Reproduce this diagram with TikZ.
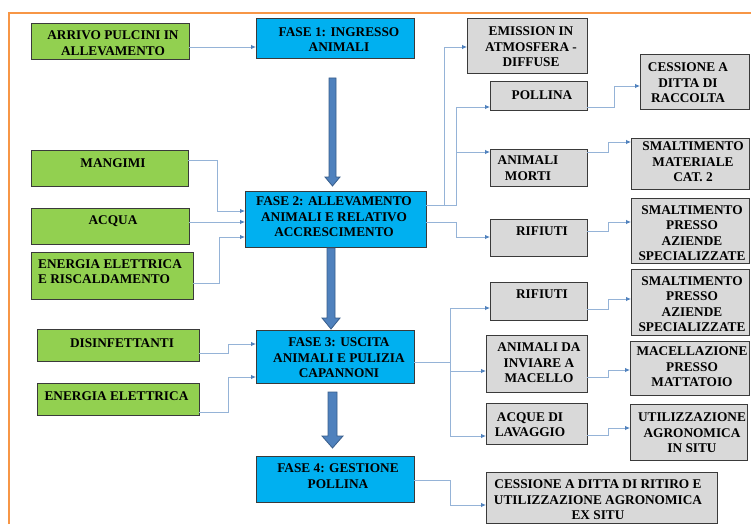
\documentclass[tikz,border=0pt]{standalone}
\usepackage{fontspec}
\setmainfont{Liberation Serif}
\usetikzlibrary{arrows.meta}
\definecolor{gfill}{HTML}{92D050}
\definecolor{bfill}{HTML}{00B0F0}
\definecolor{kfill}{HTML}{D9D9D9}
\definecolor{bordc}{HTML}{3A3A3A}
\definecolor{lineb}{HTML}{95B3D7}
\definecolor{tipb}{HTML}{4F81BD}
\definecolor{arrb}{HTML}{4F81BD}
\definecolor{arrd}{HTML}{385D8A}
\definecolor{framec}{HTML}{F79646}
\newcommand\bbox[6]{\node[box,#6,minimum width=#4pt-#2pt,minimum height=#5pt-#3pt] (#1) at ({(#2+#4)/2},{(#3+#5)/2}) {};}
\begin{document}
\begin{tikzpicture}[x=1pt,y=-1pt,
  box/.style={draw=bordc,line width=1pt,inner sep=0pt,outer sep=0pt},
  txt/.style={font=\bfseries\fontsize{13.3}{15.5}\selectfont,align=center,inner sep=0pt,text=black},
  conn/.style={draw=lineb,line width=0.9pt,-{Latex[length=5pt,width=4.5pt,color=tipb]}},
  bigarrow/.style={fill=arrb,draw=arrd,line width=0.8pt}]
\useasboundingbox (0,0) rectangle (751,524);
% frame
\draw[framec,line width=2pt] (9,524) -- (9,13) -- (751,13);
% boxes
\bbox{arrivo}{31}{24}{189}{60}{fill=gfill}
\bbox{fase1}{256}{19}{414}{59}{fill=bfill}
\bbox{emission}{467}{19}{587}{74}{fill=kfill}
\bbox{pollina}{490}{82}{587}{110}{fill=kfill}
\bbox{cessione}{640}{55}{749}{109}{fill=kfill}
\bbox{mangimi}{31}{150}{188}{186}{fill=gfill}
\bbox{acqua}{31}{208}{189}{244}{fill=gfill}
\bbox{energia}{31}{252}{193}{299}{fill=gfill}
\bbox{fase2}{245}{191}{426}{247}{fill=bfill}
\bbox{morti}{490}{149}{587}{186}{fill=kfill}
\bbox{cat2}{631}{138}{749}{189}{fill=kfill}
\bbox{rif1}{490}{219}{587}{256}{fill=kfill}
\bbox{smalt1}{631}{198}{749}{263}{fill=kfill}
\bbox{rif2}{490}{282}{587}{320}{fill=kfill}
\bbox{smalt2}{631}{269}{749}{335}{fill=kfill}
\bbox{disinf}{37}{329}{199}{361}{fill=gfill}
\bbox{enel}{37}{383}{199}{415}{fill=gfill}
\bbox{fase3}{256}{330}{414}{383}{fill=bfill}
\bbox{inviare}{486}{335}{587}{392}{fill=kfill}
\bbox{macell}{630}{341}{749}{395}{fill=kfill}
\bbox{acque}{486}{403}{587}{444}{fill=kfill}
\bbox{util}{630}{404}{747}{460}{fill=kfill}
\bbox{fase4}{256}{456}{414}{502}{fill=bfill}
\bbox{cess2}{486}{472}{717}{523}{fill=kfill}
% texts
\node[txt] (t-arrivo) at (113,43) {ARRIVO PULCINI IN\\ALLEVAMENTO};
\node[txt] (t-fase1) at (339,39.5) {FASE 1: INGRESSO\\ANIMALI};
\node[txt] (t-emission) at (531,47) {EMISSION IN\\ATMOSFERA -\\DIFFUSE};
\node[txt] (t-pollina) at (542,95) {POLLINA};
\node[txt] (t-cessione) at (688,83) {CESSIONE A\\DITTA DI\\RACCOLTA};
\node[txt] (t-mangimi) at (113,163) {MANGIMI};
\node[txt] (t-acqua) at (113,221) {ACQUA};
\node[txt,align=left,anchor=west] (t-energia) at (38,271.5) {ENERGIA ELETTRICA\\E RISCALDAMENTO};
\node[txt] (t-fase2) at (334,217) {FASE 2: ALLEVAMENTO\\ANIMALI E RELATIVO\\ACCRESCIMENTO};
\node[txt] (t-morti) at (528,168) {ANIMALI\\MORTI};
\node[txt] (t-cat2) at (693,162) {SMALTIMENTO\\MATERIALE\\CAT. 2};
\node[txt] (t-rif1) at (542,231) {RIFIUTI};
\node[txt] (t-smalt1) at (692,233) {SMALTIMENTO\\PRESSO\\AZIENDE\\SPECIALIZZATE};
\node[txt] (t-rif2) at (542,294) {RIFIUTI};
\node[txt] (t-smalt2) at (692,304) {SMALTIMENTO\\PRESSO\\AZIENDE\\SPECIALIZZATE};
\node[txt] (t-disinf) at (122,343) {DISINFETTANTI};
\node[txt] (t-enel) at (116.5,396) {ENERGIA ELETTRICA};
\node[txt] (t-fase3) at (339,358) {FASE 3: USCITA\\ANIMALI E PULIZIA\\CAPANNONI};
\node[txt] (t-fase4) at (338,476) {FASE 4: GESTIONE\\POLLINA};
\node[txt] (t-inviare) at (539,363) {ANIMALI DA\\INVIARE A\\MACELLO};
\node[txt] (t-macell) at (692,367) {MACELLAZIONE\\PRESSO\\MATTATOIO};
\node[txt] (t-acque) at (530,424.5) {ACQUE DI\\LAVAGGIO};
\node[txt] (t-util) at (692,433) {UTILIZZAZIONE\\AGRONOMICA\\IN SITU};
\node[txt] (t-cess2) at (598,500) {CESSIONE A DITTA DI RITIRO E\\UTILIZZAZIONE AGRONOMICA\\EX SITU};
% connectors
\draw[conn] (arrivo.east |- 0,47) -- (fase1.west |- 0,47);
\draw[conn] (mangimi.east |- 0,160) -| (217,211) -- (fase2.west |- 0,211);
\draw[conn] (acqua.east |- 0,222) -- (fase2.west |- 0,222);
\draw[conn] (energia.east |- 0,283) -| (219,237) -- (fase2.west |- 0,237);
\draw[conn] (fase2.east |- 0,205) -| (444,47) -- (emission.west |- 0,47);
\draw[conn] (fase2.east |- 0,205) -| (456,107) -- (pollina.west |- 0,107);
\draw[conn] (fase2.east |- 0,205) -| (456,152) -- (morti.west |- 0,152);
\draw[conn] (fase2.east |- 0,222) -| (456,237) -- (rif1.west |- 0,237);
\draw[conn] (pollina.east |- 0,107) -| (614,86) -- (cessione.west |- 0,86);
\draw[conn] (morti.east |- 0,152) -| (608,142) -- (cat2.west |- 0,142);
\draw[conn] (rif1.east |- 0,231) -| (608,222) -- (smalt1.west |- 0,222);
\draw[conn] (rif2.east |- 0,309) -| (608,299) -- (smalt2.west |- 0,299);
\draw[conn] (fase3.east |- 0,362) -| (450,308) -- (rif2.west |- 0,308);
\draw[conn] (fase3.east |- 0,362) -| (450,371) -- (inviare.west |- 0,371);
\draw[conn] (fase3.east |- 0,362) -| (450,436) -- (acque.west |- 0,436);
\draw[conn] (inviare.east |- 0,377) -| (608,370) -- (macell.west |- 0,370);
\draw[conn] (acque.east |- 0,435) -| (608,428) -- (util.west |- 0,428);
\draw[conn] (fase4.east |- 0,480) -| (450,505) -- (cess2.west |- 0,505);
\draw[conn] (disinf.east |- 0,353) -| (228,344) -- (fase3.west |- 0,344);
\draw[conn] (enel.east |- 0,412) -| (228,377) -- (fase3.west |- 0,377);
% big arrows
\draw[bigarrow] (329,78) -- (336,78) -- (336,177) -- (340,177) -- (332.5,186) -- (325,177) -- (329,177) -- cycle;
\draw[bigarrow] (327,248) -- (335,248) -- (335,318) -- (340,318) -- (331,329) -- (322,318) -- (327,318) -- cycle;
\draw[bigarrow] (328,392) -- (337,392) -- (337,436) -- (343,436) -- (332.5,448) -- (322,436) -- (328,436) -- cycle;
\end{tikzpicture}
\end{document}
